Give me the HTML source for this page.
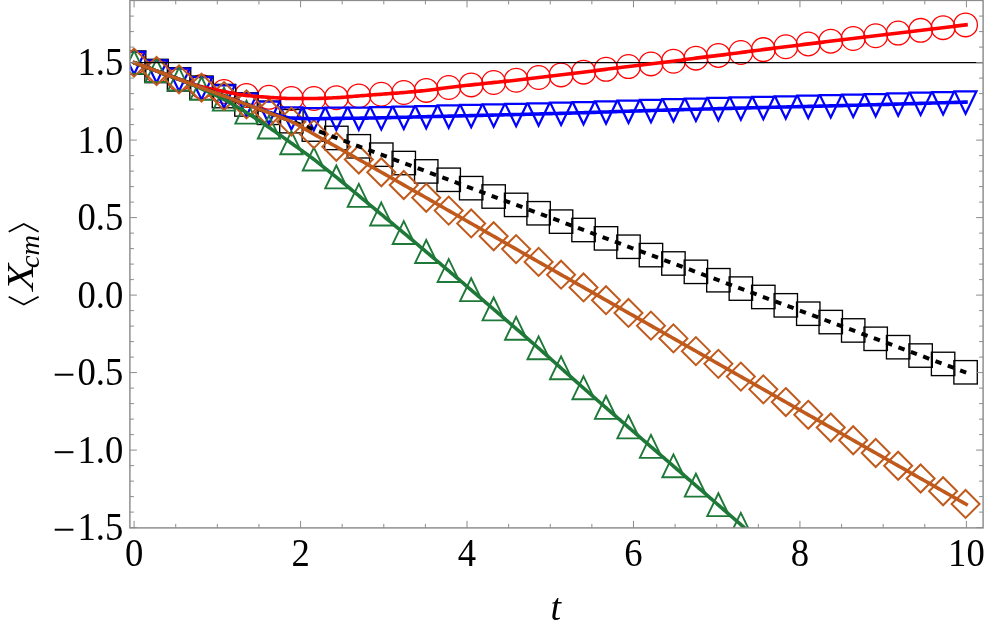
<!DOCTYPE html>
<html><head><meta charset="utf-8"><title>plot</title>
<style>html,body{margin:0;padding:0;background:#fff}body{width:987px;height:630px;overflow:hidden;position:relative;font-family:"Liberation Serif",serif}</style>
</head><body>
<svg width="987" height="630" viewBox="0 0 987 630" style="position:absolute;left:0;top:0;will-change:transform;opacity:0.9999">
<defs><clipPath id="c"><rect x="129.90" y="-0.60" width="853.20" height="528.50"/></clipPath></defs>
<g clip-path="url(#c)">
<circle cx="134.10" cy="62.60" r="11.85" fill="none" stroke="#ff0000" stroke-width="1.3"/><circle cx="156.57" cy="70.97" r="11.85" fill="none" stroke="#ff0000" stroke-width="1.3"/><circle cx="179.04" cy="79.19" r="11.85" fill="none" stroke="#ff0000" stroke-width="1.3"/><circle cx="201.52" cy="86.62" r="11.85" fill="none" stroke="#ff0000" stroke-width="1.3"/><circle cx="223.99" cy="91.51" r="11.85" fill="none" stroke="#ff0000" stroke-width="1.3"/><circle cx="246.46" cy="95.46" r="11.85" fill="none" stroke="#ff0000" stroke-width="1.3"/><circle cx="268.93" cy="97.32" r="11.85" fill="none" stroke="#ff0000" stroke-width="1.3"/><circle cx="291.40" cy="98.56" r="11.85" fill="none" stroke="#ff0000" stroke-width="1.3"/><circle cx="313.88" cy="98.48" r="11.85" fill="none" stroke="#ff0000" stroke-width="1.3"/><circle cx="336.35" cy="97.69" r="11.85" fill="none" stroke="#ff0000" stroke-width="1.3"/><circle cx="358.82" cy="95.93" r="11.85" fill="none" stroke="#ff0000" stroke-width="1.3"/><circle cx="381.29" cy="94.22" r="11.85" fill="none" stroke="#ff0000" stroke-width="1.3"/><circle cx="403.77" cy="92.52" r="11.85" fill="none" stroke="#ff0000" stroke-width="1.3"/><circle cx="426.24" cy="90.42" r="11.85" fill="none" stroke="#ff0000" stroke-width="1.3"/><circle cx="448.71" cy="87.52" r="11.85" fill="none" stroke="#ff0000" stroke-width="1.3"/><circle cx="471.18" cy="84.92" r="11.85" fill="none" stroke="#ff0000" stroke-width="1.3"/><circle cx="493.65" cy="82.52" r="11.85" fill="none" stroke="#ff0000" stroke-width="1.3"/><circle cx="516.13" cy="80.21" r="11.85" fill="none" stroke="#ff0000" stroke-width="1.3"/><circle cx="538.60" cy="77.51" r="11.85" fill="none" stroke="#ff0000" stroke-width="1.3"/><circle cx="561.07" cy="74.91" r="11.85" fill="none" stroke="#ff0000" stroke-width="1.3"/><circle cx="583.54" cy="72.14" r="11.85" fill="none" stroke="#ff0000" stroke-width="1.3"/><circle cx="606.01" cy="69.31" r="11.85" fill="none" stroke="#ff0000" stroke-width="1.3"/><circle cx="628.49" cy="66.54" r="11.85" fill="none" stroke="#ff0000" stroke-width="1.3"/><circle cx="650.96" cy="63.92" r="11.85" fill="none" stroke="#ff0000" stroke-width="1.3"/><circle cx="673.43" cy="61.21" r="11.85" fill="none" stroke="#ff0000" stroke-width="1.3"/><circle cx="695.90" cy="58.14" r="11.85" fill="none" stroke="#ff0000" stroke-width="1.3"/><circle cx="718.37" cy="55.44" r="11.85" fill="none" stroke="#ff0000" stroke-width="1.3"/><circle cx="740.85" cy="52.53" r="11.85" fill="none" stroke="#ff0000" stroke-width="1.3"/><circle cx="763.32" cy="49.58" r="11.85" fill="none" stroke="#ff0000" stroke-width="1.3"/><circle cx="785.79" cy="46.74" r="11.85" fill="none" stroke="#ff0000" stroke-width="1.3"/><circle cx="808.26" cy="43.95" r="11.85" fill="none" stroke="#ff0000" stroke-width="1.3"/><circle cx="830.74" cy="41.19" r="11.85" fill="none" stroke="#ff0000" stroke-width="1.3"/><circle cx="853.21" cy="38.46" r="11.85" fill="none" stroke="#ff0000" stroke-width="1.3"/><circle cx="875.68" cy="35.75" r="11.85" fill="none" stroke="#ff0000" stroke-width="1.3"/><circle cx="898.15" cy="33.05" r="11.85" fill="none" stroke="#ff0000" stroke-width="1.3"/><circle cx="920.62" cy="30.35" r="11.85" fill="none" stroke="#ff0000" stroke-width="1.3"/><circle cx="943.10" cy="27.64" r="11.85" fill="none" stroke="#ff0000" stroke-width="1.3"/><circle cx="965.57" cy="24.90" r="11.85" fill="none" stroke="#ff0000" stroke-width="1.3"/>
<rect x="122.40" y="50.90" width="23.40" height="23.40" fill="none" stroke="#000" stroke-width="1.35"/><rect x="144.87" y="59.27" width="23.40" height="23.40" fill="none" stroke="#000" stroke-width="1.35"/><rect x="167.34" y="67.64" width="23.40" height="23.40" fill="none" stroke="#000" stroke-width="1.35"/><rect x="189.82" y="76.01" width="23.40" height="23.40" fill="none" stroke="#000" stroke-width="1.35"/><rect x="212.29" y="84.38" width="23.40" height="23.40" fill="none" stroke="#000" stroke-width="1.35"/><rect x="234.76" y="92.75" width="23.40" height="23.40" fill="none" stroke="#000" stroke-width="1.35"/><rect x="257.23" y="101.12" width="23.40" height="23.40" fill="none" stroke="#000" stroke-width="1.35"/><rect x="279.70" y="109.49" width="23.40" height="23.40" fill="none" stroke="#000" stroke-width="1.35"/><rect x="302.18" y="117.86" width="23.40" height="23.40" fill="none" stroke="#000" stroke-width="1.35"/><rect x="324.65" y="126.23" width="23.40" height="23.40" fill="none" stroke="#000" stroke-width="1.35"/><rect x="347.12" y="134.60" width="23.40" height="23.40" fill="none" stroke="#000" stroke-width="1.35"/><rect x="369.59" y="142.97" width="23.40" height="23.40" fill="none" stroke="#000" stroke-width="1.35"/><rect x="392.07" y="151.34" width="23.40" height="23.40" fill="none" stroke="#000" stroke-width="1.35"/><rect x="414.54" y="159.71" width="23.40" height="23.40" fill="none" stroke="#000" stroke-width="1.35"/><rect x="437.01" y="168.08" width="23.40" height="23.40" fill="none" stroke="#000" stroke-width="1.35"/><rect x="459.48" y="176.45" width="23.40" height="23.40" fill="none" stroke="#000" stroke-width="1.35"/><rect x="481.95" y="184.82" width="23.40" height="23.40" fill="none" stroke="#000" stroke-width="1.35"/><rect x="504.43" y="193.19" width="23.40" height="23.40" fill="none" stroke="#000" stroke-width="1.35"/><rect x="526.90" y="201.56" width="23.40" height="23.40" fill="none" stroke="#000" stroke-width="1.35"/><rect x="549.37" y="209.93" width="23.40" height="23.40" fill="none" stroke="#000" stroke-width="1.35"/><rect x="571.84" y="218.30" width="23.40" height="23.40" fill="none" stroke="#000" stroke-width="1.35"/><rect x="594.31" y="226.67" width="23.40" height="23.40" fill="none" stroke="#000" stroke-width="1.35"/><rect x="616.79" y="235.04" width="23.40" height="23.40" fill="none" stroke="#000" stroke-width="1.35"/><rect x="639.26" y="243.41" width="23.40" height="23.40" fill="none" stroke="#000" stroke-width="1.35"/><rect x="661.73" y="251.78" width="23.40" height="23.40" fill="none" stroke="#000" stroke-width="1.35"/><rect x="684.20" y="260.15" width="23.40" height="23.40" fill="none" stroke="#000" stroke-width="1.35"/><rect x="706.67" y="268.52" width="23.40" height="23.40" fill="none" stroke="#000" stroke-width="1.35"/><rect x="729.15" y="276.89" width="23.40" height="23.40" fill="none" stroke="#000" stroke-width="1.35"/><rect x="751.62" y="285.26" width="23.40" height="23.40" fill="none" stroke="#000" stroke-width="1.35"/><rect x="774.09" y="293.63" width="23.40" height="23.40" fill="none" stroke="#000" stroke-width="1.35"/><rect x="796.56" y="302.00" width="23.40" height="23.40" fill="none" stroke="#000" stroke-width="1.35"/><rect x="819.04" y="310.37" width="23.40" height="23.40" fill="none" stroke="#000" stroke-width="1.35"/><rect x="841.51" y="318.74" width="23.40" height="23.40" fill="none" stroke="#000" stroke-width="1.35"/><rect x="863.98" y="327.11" width="23.40" height="23.40" fill="none" stroke="#000" stroke-width="1.35"/><rect x="886.45" y="335.48" width="23.40" height="23.40" fill="none" stroke="#000" stroke-width="1.35"/><rect x="908.92" y="343.85" width="23.40" height="23.40" fill="none" stroke="#000" stroke-width="1.35"/><rect x="931.40" y="352.22" width="23.40" height="23.40" fill="none" stroke="#000" stroke-width="1.35"/><rect x="953.87" y="360.59" width="23.40" height="23.40" fill="none" stroke="#000" stroke-width="1.35"/>
<path d="M134.10 74.25 L144.92 51.92 L123.28 51.92 Z" fill="none" stroke="#0000ff" stroke-width="2.25"/><path d="M156.57 82.62 L167.39 60.29 L145.75 60.29 Z" fill="none" stroke="#0000ff" stroke-width="2.25"/><path d="M179.04 90.99 L189.86 68.66 L168.22 68.66 Z" fill="none" stroke="#0000ff" stroke-width="2.25"/><path d="M201.52 99.38 L212.34 77.05 L190.70 77.05 Z" fill="none" stroke="#0000ff" stroke-width="2.25"/><path d="M223.99 107.73 L234.81 85.40 L213.17 85.40 Z" fill="none" stroke="#0000ff" stroke-width="2.25"/><path d="M246.46 115.94 L257.28 93.61 L235.64 93.61 Z" fill="none" stroke="#0000ff" stroke-width="2.25"/><path d="M268.93 123.85 L279.75 101.52 L258.11 101.52 Z" fill="none" stroke="#0000ff" stroke-width="2.25"/><path d="M291.40 129.59 L302.22 107.25 L280.58 107.25 Z" fill="none" stroke="#0000ff" stroke-width="2.25"/><path d="M313.88 130.36 L324.70 108.03 L303.06 108.03 Z" fill="none" stroke="#0000ff" stroke-width="2.25"/><path d="M336.35 130.05 L347.17 107.72 L325.53 107.72 Z" fill="none" stroke="#0000ff" stroke-width="2.25"/><path d="M358.82 129.85 L369.64 107.52 L348.00 107.52 Z" fill="none" stroke="#0000ff" stroke-width="2.25"/><path d="M381.29 129.46 L392.11 107.13 L370.47 107.13 Z" fill="none" stroke="#0000ff" stroke-width="2.25"/><path d="M403.77 128.92 L414.59 106.59 L392.95 106.59 Z" fill="none" stroke="#0000ff" stroke-width="2.25"/><path d="M426.24 128.35 L437.06 106.02 L415.42 106.02 Z" fill="none" stroke="#0000ff" stroke-width="2.25"/><path d="M448.71 127.82 L459.53 105.49 L437.89 105.49 Z" fill="none" stroke="#0000ff" stroke-width="2.25"/><path d="M471.18 127.28 L482.00 104.95 L460.36 104.95 Z" fill="none" stroke="#0000ff" stroke-width="2.25"/><path d="M493.65 126.74 L504.47 104.41 L482.83 104.41 Z" fill="none" stroke="#0000ff" stroke-width="2.25"/><path d="M516.13 126.18 L526.95 103.85 L505.31 103.85 Z" fill="none" stroke="#0000ff" stroke-width="2.25"/><path d="M538.60 125.61 L549.42 103.28 L527.78 103.28 Z" fill="none" stroke="#0000ff" stroke-width="2.25"/><path d="M561.07 125.00 L571.89 102.67 L550.25 102.67 Z" fill="none" stroke="#0000ff" stroke-width="2.25"/><path d="M583.54 124.36 L594.36 102.03 L572.72 102.03 Z" fill="none" stroke="#0000ff" stroke-width="2.25"/><path d="M606.01 123.64 L616.83 101.31 L595.19 101.31 Z" fill="none" stroke="#0000ff" stroke-width="2.25"/><path d="M628.49 122.89 L639.31 100.56 L617.67 100.56 Z" fill="none" stroke="#0000ff" stroke-width="2.25"/><path d="M650.96 122.19 L661.78 99.86 L640.14 99.86 Z" fill="none" stroke="#0000ff" stroke-width="2.25"/><path d="M673.43 121.53 L684.25 99.19 L662.61 99.19 Z" fill="none" stroke="#0000ff" stroke-width="2.25"/><path d="M695.90 120.91 L706.72 98.58 L685.08 98.58 Z" fill="none" stroke="#0000ff" stroke-width="2.25"/><path d="M718.37 120.31 L729.19 97.98 L707.55 97.98 Z" fill="none" stroke="#0000ff" stroke-width="2.25"/><path d="M740.85 119.74 L751.67 97.41 L730.03 97.41 Z" fill="none" stroke="#0000ff" stroke-width="2.25"/><path d="M763.32 119.17 L774.14 96.84 L752.50 96.84 Z" fill="none" stroke="#0000ff" stroke-width="2.25"/><path d="M785.79 118.61 L796.61 96.28 L774.97 96.28 Z" fill="none" stroke="#0000ff" stroke-width="2.25"/><path d="M808.26 118.05 L819.08 95.72 L797.44 95.72 Z" fill="none" stroke="#0000ff" stroke-width="2.25"/><path d="M830.74 117.51 L841.56 95.18 L819.92 95.18 Z" fill="none" stroke="#0000ff" stroke-width="2.25"/><path d="M853.21 116.95 L864.03 94.62 L842.39 94.62 Z" fill="none" stroke="#0000ff" stroke-width="2.25"/><path d="M875.68 116.34 L886.50 94.01 L864.86 94.01 Z" fill="none" stroke="#0000ff" stroke-width="2.25"/><path d="M898.15 115.70 L908.97 93.37 L887.33 93.37 Z" fill="none" stroke="#0000ff" stroke-width="2.25"/><path d="M920.62 115.04 L931.44 92.71 L909.80 92.71 Z" fill="none" stroke="#0000ff" stroke-width="2.25"/><path d="M943.10 114.39 L953.92 92.06 L932.28 92.06 Z" fill="none" stroke="#0000ff" stroke-width="2.25"/><path d="M965.57 113.77 L976.39 91.44 L954.75 91.44 Z" fill="none" stroke="#0000ff" stroke-width="2.25"/>
<path d="M134.10 50.80 L145.20 73.70 L123.00 73.70 Z" fill="none" stroke="#1e7838" stroke-width="1.9"/><path d="M156.57 59.17 L167.67 82.07 L145.47 82.07 Z" fill="none" stroke="#1e7838" stroke-width="1.9"/><path d="M179.04 67.54 L190.14 90.44 L167.94 90.44 Z" fill="none" stroke="#1e7838" stroke-width="1.9"/><path d="M201.52 77.00 L212.62 99.90 L190.42 99.90 Z" fill="none" stroke="#1e7838" stroke-width="1.9"/><path d="M223.99 87.69 L235.09 110.59 L212.89 110.59 Z" fill="none" stroke="#1e7838" stroke-width="1.9"/><path d="M246.46 100.71 L257.56 123.61 L235.36 123.61 Z" fill="none" stroke="#1e7838" stroke-width="1.9"/><path d="M268.93 115.59 L280.03 138.49 L257.83 138.49 Z" fill="none" stroke="#1e7838" stroke-width="1.9"/><path d="M291.40 131.40 L302.50 154.30 L280.30 154.30 Z" fill="none" stroke="#1e7838" stroke-width="1.9"/><path d="M313.88 147.60 L324.98 170.50 L302.78 170.50 Z" fill="none" stroke="#1e7838" stroke-width="1.9"/><path d="M336.35 165.50 L347.45 188.40 L325.25 188.40 Z" fill="none" stroke="#1e7838" stroke-width="1.9"/><path d="M358.82 183.94 L369.92 206.84 L347.72 206.84 Z" fill="none" stroke="#1e7838" stroke-width="1.9"/><path d="M381.29 202.54 L392.39 225.44 L370.19 225.44 Z" fill="none" stroke="#1e7838" stroke-width="1.9"/><path d="M403.77 221.14 L414.87 244.04 L392.67 244.04 Z" fill="none" stroke="#1e7838" stroke-width="1.9"/><path d="M426.24 240.03 L437.34 262.93 L415.14 262.93 Z" fill="none" stroke="#1e7838" stroke-width="1.9"/><path d="M448.71 259.06 L459.81 281.96 L437.61 281.96 Z" fill="none" stroke="#1e7838" stroke-width="1.9"/><path d="M471.18 278.22 L482.28 301.12 L460.08 301.12 Z" fill="none" stroke="#1e7838" stroke-width="1.9"/><path d="M493.65 297.49 L504.75 320.39 L482.55 320.39 Z" fill="none" stroke="#1e7838" stroke-width="1.9"/><path d="M516.13 316.84 L527.23 339.74 L505.03 339.74 Z" fill="none" stroke="#1e7838" stroke-width="1.9"/><path d="M538.60 336.40 L549.70 359.30 L527.50 359.30 Z" fill="none" stroke="#1e7838" stroke-width="1.9"/><path d="M561.07 356.35 L572.17 379.25 L549.97 379.25 Z" fill="none" stroke="#1e7838" stroke-width="1.9"/><path d="M583.54 376.30 L594.64 399.20 L572.44 399.20 Z" fill="none" stroke="#1e7838" stroke-width="1.9"/><path d="M606.01 395.97 L617.11 418.87 L594.91 418.87 Z" fill="none" stroke="#1e7838" stroke-width="1.9"/><path d="M628.49 415.49 L639.59 438.39 L617.39 438.39 Z" fill="none" stroke="#1e7838" stroke-width="1.9"/><path d="M650.96 434.93 L662.06 457.83 L639.86 457.83 Z" fill="none" stroke="#1e7838" stroke-width="1.9"/><path d="M673.43 454.34 L684.53 477.24 L662.33 477.24 Z" fill="none" stroke="#1e7838" stroke-width="1.9"/><path d="M695.90 473.76 L707.00 496.66 L684.80 496.66 Z" fill="none" stroke="#1e7838" stroke-width="1.9"/><path d="M718.37 493.26 L729.47 516.16 L707.27 516.16 Z" fill="none" stroke="#1e7838" stroke-width="1.9"/><path d="M740.85 512.85 L751.95 535.75 L729.75 535.75 Z" fill="none" stroke="#1e7838" stroke-width="1.9"/>
<path d="M134.10 48.60 L148.10 62.60 L134.10 76.60 L120.10 62.60 Z" fill="none" stroke="#c05a1c" stroke-width="2.0"/><path d="M156.57 56.97 L170.57 70.97 L156.57 84.97 L142.57 70.97 Z" fill="none" stroke="#c05a1c" stroke-width="2.0"/><path d="M179.04 65.34 L193.04 79.34 L179.04 93.34 L165.04 79.34 Z" fill="none" stroke="#c05a1c" stroke-width="2.0"/><path d="M201.52 73.71 L215.52 87.71 L201.52 101.71 L187.52 87.71 Z" fill="none" stroke="#c05a1c" stroke-width="2.0"/><path d="M223.99 82.08 L237.99 96.08 L223.99 110.08 L209.99 96.08 Z" fill="none" stroke="#c05a1c" stroke-width="2.0"/><path d="M246.46 90.39 L260.46 104.39 L246.46 118.39 L232.46 104.39 Z" fill="none" stroke="#c05a1c" stroke-width="2.0"/><path d="M268.93 98.82 L282.93 112.82 L268.93 126.82 L254.93 112.82 Z" fill="none" stroke="#c05a1c" stroke-width="2.0"/><path d="M291.40 107.66 L305.40 121.66 L291.40 135.66 L277.40 121.66 Z" fill="none" stroke="#c05a1c" stroke-width="2.0"/><path d="M313.88 120.16 L327.88 134.16 L313.88 148.16 L299.88 134.16 Z" fill="none" stroke="#c05a1c" stroke-width="2.0"/><path d="M336.35 132.80 L350.35 146.80 L336.35 160.80 L322.35 146.80 Z" fill="none" stroke="#c05a1c" stroke-width="2.0"/><path d="M358.82 145.49 L372.82 159.49 L358.82 173.49 L344.82 159.49 Z" fill="none" stroke="#c05a1c" stroke-width="2.0"/><path d="M381.29 158.22 L395.29 172.22 L381.29 186.22 L367.29 172.22 Z" fill="none" stroke="#c05a1c" stroke-width="2.0"/><path d="M403.77 171.00 L417.77 185.00 L403.77 199.00 L389.77 185.00 Z" fill="none" stroke="#c05a1c" stroke-width="2.0"/><path d="M426.24 183.80 L440.24 197.80 L426.24 211.80 L412.24 197.80 Z" fill="none" stroke="#c05a1c" stroke-width="2.0"/><path d="M448.71 196.62 L462.71 210.62 L448.71 224.62 L434.71 210.62 Z" fill="none" stroke="#c05a1c" stroke-width="2.0"/><path d="M471.18 209.45 L485.18 223.45 L471.18 237.45 L457.18 223.45 Z" fill="none" stroke="#c05a1c" stroke-width="2.0"/><path d="M493.65 222.27 L507.65 236.27 L493.65 250.27 L479.65 236.27 Z" fill="none" stroke="#c05a1c" stroke-width="2.0"/><path d="M516.13 235.10 L530.13 249.10 L516.13 263.10 L502.13 249.10 Z" fill="none" stroke="#c05a1c" stroke-width="2.0"/><path d="M538.60 247.90 L552.60 261.90 L538.60 275.90 L524.60 261.90 Z" fill="none" stroke="#c05a1c" stroke-width="2.0"/><path d="M561.07 260.67 L575.07 274.67 L561.07 288.67 L547.07 274.67 Z" fill="none" stroke="#c05a1c" stroke-width="2.0"/><path d="M583.54 273.43 L597.54 287.43 L583.54 301.43 L569.54 287.43 Z" fill="none" stroke="#c05a1c" stroke-width="2.0"/><path d="M606.01 286.18 L620.01 300.18 L606.01 314.18 L592.01 300.18 Z" fill="none" stroke="#c05a1c" stroke-width="2.0"/><path d="M628.49 298.92 L642.49 312.92 L628.49 326.92 L614.49 312.92 Z" fill="none" stroke="#c05a1c" stroke-width="2.0"/><path d="M650.96 311.66 L664.96 325.66 L650.96 339.66 L636.96 325.66 Z" fill="none" stroke="#c05a1c" stroke-width="2.0"/><path d="M673.43 324.40 L687.43 338.40 L673.43 352.40 L659.43 338.40 Z" fill="none" stroke="#c05a1c" stroke-width="2.0"/><path d="M695.90 337.14 L709.90 351.14 L695.90 365.14 L681.90 351.14 Z" fill="none" stroke="#c05a1c" stroke-width="2.0"/><path d="M718.37 349.87 L732.37 363.87 L718.37 377.87 L704.37 363.87 Z" fill="none" stroke="#c05a1c" stroke-width="2.0"/><path d="M740.85 362.60 L754.85 376.60 L740.85 390.60 L726.85 376.60 Z" fill="none" stroke="#c05a1c" stroke-width="2.0"/><path d="M763.32 375.34 L777.32 389.34 L763.32 403.34 L749.32 389.34 Z" fill="none" stroke="#c05a1c" stroke-width="2.0"/><path d="M785.79 388.07 L799.79 402.07 L785.79 416.07 L771.79 402.07 Z" fill="none" stroke="#c05a1c" stroke-width="2.0"/><path d="M808.26 400.80 L822.26 414.80 L808.26 428.80 L794.26 414.80 Z" fill="none" stroke="#c05a1c" stroke-width="2.0"/><path d="M830.74 413.53 L844.74 427.53 L830.74 441.53 L816.74 427.53 Z" fill="none" stroke="#c05a1c" stroke-width="2.0"/><path d="M853.21 426.26 L867.21 440.26 L853.21 454.26 L839.21 440.26 Z" fill="none" stroke="#c05a1c" stroke-width="2.0"/><path d="M875.68 439.00 L889.68 453.00 L875.68 467.00 L861.68 453.00 Z" fill="none" stroke="#c05a1c" stroke-width="2.0"/><path d="M898.15 451.73 L912.15 465.73 L898.15 479.73 L884.15 465.73 Z" fill="none" stroke="#c05a1c" stroke-width="2.0"/><path d="M920.62 464.47 L934.62 478.47 L920.62 492.47 L906.62 478.47 Z" fill="none" stroke="#c05a1c" stroke-width="2.0"/><path d="M943.10 477.22 L957.10 491.22 L943.10 505.22 L929.10 491.22 Z" fill="none" stroke="#c05a1c" stroke-width="2.0"/><path d="M965.57 489.96 L979.57 503.96 L965.57 517.96 L951.57 503.96 Z" fill="none" stroke="#c05a1c" stroke-width="2.0"/>
<path d="M129.90 62.60 L983.10 62.60" stroke="#000" stroke-width="1.2" fill="none"/>
<path d="M132.69 62.07 L134.78 62.85 L136.87 63.63 L138.96 64.41 L141.06 65.20 L143.15 65.98 L145.24 66.76 L147.34 67.54 L149.43 68.32 L151.52 69.10 L153.62 69.88 L155.71 70.65 L157.80 71.42 L159.89 72.20 L161.99 72.98 L164.08 73.76 L166.17 74.53 L168.27 75.31 L170.36 76.08 L172.45 76.84 L174.55 77.60 L176.64 78.34 L178.73 79.08 L180.83 79.81 L182.92 80.55 L185.01 81.29 L187.10 82.04 L189.20 82.77 L191.29 83.49 L193.38 84.19 L195.48 84.87 L197.57 85.51 L199.66 86.12 L201.76 86.69 L203.85 87.22 L205.94 87.73 L208.04 88.22 L210.13 88.69 L212.22 89.14 L214.31 89.58 L216.41 90.01 L218.50 90.43 L220.59 90.85 L222.69 91.25 L224.78 91.66 L226.87 92.08 L228.97 92.49 L231.06 92.91 L233.15 93.32 L235.24 93.72 L237.34 94.10 L239.43 94.46 L241.52 94.80 L243.62 95.10 L245.71 95.37 L247.80 95.61 L249.90 95.83 L251.99 96.03 L254.08 96.22 L256.18 96.40 L258.27 96.57 L260.36 96.73 L262.45 96.88 L264.55 97.02 L266.64 97.17 L268.73 97.31 L270.83 97.45 L272.92 97.60 L275.01 97.76 L277.11 97.91 L279.20 98.06 L281.29 98.20 L283.39 98.32 L285.48 98.42 L287.57 98.50 L289.66 98.55 L291.76 98.56 L293.85 98.56 L295.94 98.56 L298.04 98.55 L300.13 98.55 L302.22 98.54 L304.32 98.53 L306.41 98.52 L308.50 98.51 L310.59 98.50 L312.69 98.49 L314.78 98.48 L316.87 98.45 L318.97 98.40 L321.06 98.35 L323.15 98.28 L325.25 98.20 L327.34 98.11 L329.43 98.02 L331.53 97.93 L333.62 97.82 L335.71 97.72 L337.80 97.62 L339.90 97.49 L341.99 97.34 L344.08 97.18 L346.18 97.01 L348.27 96.83 L350.36 96.65 L352.46 96.46 L354.55 96.28 L356.64 96.10 L358.74 95.93 L360.83 95.77 L362.92 95.61 L365.01 95.45 L367.11 95.29 L369.20 95.13 L371.29 94.98 L373.39 94.82 L375.48 94.66 L377.57 94.50 L379.67 94.34 L381.76 94.18 L383.85 94.03 L385.95 93.87 L388.04 93.72 L390.13 93.57 L392.22 93.41 L394.32 93.26 L396.41 93.10 L398.50 92.94 L400.60 92.77 L402.69 92.60 L404.78 92.43 L406.88 92.25 L408.97 92.07 L411.06 91.89 L413.15 91.71 L415.25 91.52 L417.34 91.32 L419.43 91.12 L421.53 90.91 L423.62 90.70 L425.71 90.48 L427.81 90.25 L429.90 90.00 L431.99 89.74 L434.09 89.47 L436.18 89.19 L438.27 88.90 L440.36 88.62 L442.46 88.33 L444.55 88.05 L446.64 87.78 L448.74 87.52 L450.83 87.27 L452.92 87.02 L455.02 86.77 L457.11 86.52 L459.20 86.28 L461.30 86.04 L463.39 85.80 L465.48 85.56 L467.57 85.32 L469.67 85.09 L471.76 84.86 L473.85 84.62 L475.95 84.40 L478.04 84.17 L480.13 83.94 L482.23 83.72 L484.32 83.50 L486.41 83.28 L488.50 83.06 L490.60 82.84 L492.69 82.62 L494.78 82.40 L496.88 82.18 L498.97 81.97 L501.06 81.76 L503.16 81.55 L505.25 81.34 L507.34 81.13 L509.44 80.92 L511.53 80.70 L513.62 80.48 L515.71 80.25 L517.81 80.02 L519.90 79.78 L521.99 79.53 L524.09 79.28 L526.18 79.02 L528.27 78.77 L530.37 78.51 L532.46 78.25 L534.55 78.00 L536.65 77.74 L538.74 77.49 L540.83 77.25 L542.92 77.01 L545.02 76.76 L547.11 76.52 L549.20 76.28 L551.30 76.04 L553.39 75.80 L555.48 75.56 L557.58 75.32 L559.67 75.07 L561.76 74.82 L563.85 74.57 L565.95 74.32 L568.04 74.07 L570.13 73.81 L572.23 73.55 L574.32 73.29 L576.41 73.04 L578.51 72.77 L580.60 72.51 L582.69 72.25 L584.79 71.99 L586.88 71.72 L588.97 71.46 L591.06 71.20 L593.16 70.93 L595.25 70.67 L597.34 70.40 L599.44 70.14 L601.53 69.87 L603.62 69.61 L605.72 69.34 L607.81 69.08 L609.90 68.82 L612.00 68.56 L614.09 68.30 L616.18 68.04 L618.27 67.78 L620.37 67.52 L622.46 67.26 L624.55 67.01 L626.65 66.76 L628.74 66.51 L630.83 66.26 L632.93 66.01 L635.02 65.77 L637.11 65.53 L639.20 65.28 L641.30 65.04 L643.39 64.80 L645.48 64.56 L647.58 64.32 L649.67 64.07 L651.76 63.82 L653.86 63.57 L655.95 63.33 L658.04 63.08 L660.14 62.83 L662.23 62.58 L664.32 62.33 L666.41 62.08 L668.51 61.82 L670.60 61.56 L672.69 61.30 L674.79 61.03 L676.88 60.75 L678.97 60.47 L681.07 60.18 L683.16 59.88 L685.25 59.59 L687.35 59.29 L689.44 59.00 L691.53 58.71 L693.62 58.43 L695.72 58.16 L697.81 57.90 L699.90 57.64 L702.00 57.39 L704.09 57.14 L706.18 56.89 L708.28 56.65 L710.37 56.40 L712.46 56.15 L714.55 55.91 L716.65 55.65 L718.74 55.39 L720.83 55.13 L722.93 54.86 L725.02 54.59 L727.11 54.32 L729.21 54.05 L731.30 53.78 L733.39 53.50 L735.49 53.23 L737.58 52.95 L739.67 52.68 L741.76 52.41 L743.86 52.13 L745.95 51.86 L748.04 51.58 L750.14 51.30 L752.23 51.03 L754.32 50.75 L756.42 50.47 L758.51 50.20 L760.60 49.93 L762.70 49.66 L764.79 49.39 L766.88 49.13 L768.97 48.86 L771.07 48.59 L773.16 48.33 L775.25 48.07 L777.35 47.80 L779.44 47.54 L781.53 47.27 L783.63 47.01 L785.72 46.75 L787.81 46.49 L789.91 46.23 L792.00 45.96 L794.09 45.70 L796.18 45.44 L798.28 45.18 L800.37 44.92 L802.46 44.66 L804.56 44.40 L806.65 44.15 L808.74 43.89 L810.84 43.63 L812.93 43.37 L815.02 43.11 L817.11 42.86 L819.21 42.60 L821.30 42.34 L823.39 42.09 L825.49 41.83 L827.58 41.58 L829.67 41.32 L831.77 41.07 L833.86 40.81 L835.95 40.56 L838.05 40.30 L840.14 40.05 L842.23 39.79 L844.32 39.54 L846.42 39.29 L848.51 39.03 L850.60 38.78 L852.70 38.53 L854.79 38.27 L856.88 38.02 L858.98 37.77 L861.07 37.51 L863.16 37.26 L865.26 37.01 L867.35 36.76 L869.44 36.50 L871.53 36.25 L873.63 36.00 L875.72 35.75 L877.81 35.50 L879.91 35.25 L882.00 34.99 L884.09 34.74 L886.19 34.49 L888.28 34.24 L890.37 33.99 L892.46 33.74 L894.56 33.48 L896.65 33.23 L898.74 32.98 L900.84 32.73 L902.93 32.48 L905.02 32.23 L907.12 31.98 L909.21 31.72 L911.30 31.47 L913.40 31.22 L915.49 30.97 L917.58 30.72 L919.67 30.46 L921.77 30.21 L923.86 29.96 L925.95 29.71 L928.05 29.46 L930.14 29.20 L932.23 28.95 L934.33 28.70 L936.42 28.45 L938.51 28.19 L940.61 27.94 L942.70 27.69 L944.79 27.43 L946.88 27.18 L948.98 26.92 L951.07 26.67 L953.16 26.42 L955.26 26.16 L957.35 25.91 L959.44 25.65 L961.54 25.40 L963.63 25.14 L965.72 24.89 L967.81 24.63" stroke="#ff0000" stroke-width="3.6" fill="none"/>
<path d="M132.69 62.07 L134.78 62.85 L136.87 63.63 L138.96 64.41 L141.06 65.19 L143.15 65.97 L145.24 66.75 L147.34 67.53 L149.43 68.31 L151.52 69.09 L153.62 69.87 L155.71 70.65 L157.80 71.43 L159.89 72.21 L161.99 72.99 L164.08 73.77 L166.17 74.55 L168.27 75.33 L170.36 76.11 L172.45 76.89 L174.55 77.66 L176.64 78.44 L178.73 79.22 L180.83 80.00 L182.92 80.78 L185.01 81.57 L187.10 82.35 L189.20 83.13 L191.29 83.91 L193.38 84.69 L195.48 85.48 L197.57 86.26 L199.66 87.04 L201.76 87.82 L203.85 88.60 L205.94 89.38 L208.04 90.16 L210.13 90.94 L212.22 91.72 L214.31 92.50 L216.41 93.28 L218.50 94.05 L220.59 94.83 L222.69 95.60 L224.78 96.37 L226.87 97.14 L228.97 97.91 L231.06 98.69 L233.15 99.46 L235.24 100.22 L237.34 100.99 L239.43 101.75 L241.52 102.51 L243.62 103.27 L245.71 104.03 L247.80 104.78 L249.90 105.55 L251.99 106.32 L254.08 107.09 L256.18 107.87 L258.27 108.63 L260.36 109.38 L262.45 110.11 L264.55 110.82 L266.64 111.50 L268.73 112.14 L270.83 112.78 L272.92 113.44 L275.01 114.12 L277.11 114.79 L279.20 115.44 L281.29 116.05 L283.39 116.61 L285.48 117.09 L287.57 117.49 L289.66 117.78 L291.76 117.96 L293.85 118.08 L295.94 118.19 L298.04 118.30 L300.13 118.39 L302.22 118.48 L304.32 118.55 L306.41 118.61 L308.50 118.66 L310.59 118.69 L312.69 118.71 L314.78 118.71 L316.87 118.70 L318.97 118.68 L321.06 118.65 L323.15 118.62 L325.25 118.58 L327.34 118.54 L329.43 118.51 L331.53 118.47 L333.62 118.44 L335.71 118.41 L337.80 118.38 L339.90 118.36 L341.99 118.35 L344.08 118.33 L346.18 118.31 L348.27 118.30 L350.36 118.28 L352.46 118.26 L354.55 118.24 L356.64 118.22 L358.74 118.20 L360.83 118.17 L362.92 118.15 L365.01 118.11 L367.11 118.08 L369.20 118.05 L371.29 118.01 L373.39 117.97 L375.48 117.93 L377.57 117.89 L379.67 117.85 L381.76 117.80 L383.85 117.76 L385.95 117.71 L388.04 117.66 L390.13 117.61 L392.22 117.56 L394.32 117.51 L396.41 117.46 L398.50 117.41 L400.60 117.35 L402.69 117.30 L404.78 117.24 L406.88 117.19 L408.97 117.14 L411.06 117.08 L413.15 117.03 L415.25 116.97 L417.34 116.92 L419.43 116.87 L421.53 116.81 L423.62 116.76 L425.71 116.71 L427.81 116.66 L429.90 116.61 L431.99 116.56 L434.09 116.51 L436.18 116.46 L438.27 116.41 L440.36 116.36 L442.46 116.31 L444.55 116.26 L446.64 116.22 L448.74 116.17 L450.83 116.12 L452.92 116.07 L455.02 116.02 L457.11 115.97 L459.20 115.92 L461.30 115.87 L463.39 115.82 L465.48 115.77 L467.57 115.72 L469.67 115.67 L471.76 115.62 L473.85 115.57 L475.95 115.52 L478.04 115.47 L480.13 115.42 L482.23 115.37 L484.32 115.32 L486.41 115.27 L488.50 115.22 L490.60 115.17 L492.69 115.12 L494.78 115.06 L496.88 115.01 L498.97 114.96 L501.06 114.91 L503.16 114.86 L505.25 114.81 L507.34 114.75 L509.44 114.70 L511.53 114.65 L513.62 114.60 L515.71 114.54 L517.81 114.49 L519.90 114.44 L521.99 114.39 L524.09 114.33 L526.18 114.28 L528.27 114.23 L530.37 114.17 L532.46 114.12 L534.55 114.06 L536.65 114.01 L538.74 113.95 L540.83 113.90 L542.92 113.84 L545.02 113.79 L547.11 113.73 L549.20 113.67 L551.30 113.62 L553.39 113.56 L555.48 113.50 L557.58 113.45 L559.67 113.39 L561.76 113.33 L563.85 113.27 L565.95 113.21 L568.04 113.16 L570.13 113.10 L572.23 113.04 L574.32 112.98 L576.41 112.92 L578.51 112.86 L580.60 112.80 L582.69 112.74 L584.79 112.67 L586.88 112.61 L588.97 112.55 L591.06 112.48 L593.16 112.42 L595.25 112.35 L597.34 112.28 L599.44 112.21 L601.53 112.14 L603.62 112.07 L605.72 112.00 L607.81 111.93 L609.90 111.86 L612.00 111.78 L614.09 111.71 L616.18 111.64 L618.27 111.57 L620.37 111.50 L622.46 111.43 L624.55 111.36 L626.65 111.30 L628.74 111.23 L630.83 111.17 L632.93 111.10 L635.02 111.03 L637.11 110.97 L639.20 110.90 L641.30 110.84 L643.39 110.77 L645.48 110.71 L647.58 110.64 L649.67 110.58 L651.76 110.51 L653.86 110.45 L655.95 110.39 L658.04 110.32 L660.14 110.26 L662.23 110.20 L664.32 110.14 L666.41 110.08 L668.51 110.02 L670.60 109.96 L672.69 109.90 L674.79 109.84 L676.88 109.78 L678.97 109.72 L681.07 109.66 L683.16 109.60 L685.25 109.54 L687.35 109.49 L689.44 109.43 L691.53 109.37 L693.62 109.32 L695.72 109.26 L697.81 109.20 L699.90 109.15 L702.00 109.09 L704.09 109.04 L706.18 108.98 L708.28 108.93 L710.37 108.87 L712.46 108.82 L714.55 108.76 L716.65 108.71 L718.74 108.65 L720.83 108.60 L722.93 108.55 L725.02 108.49 L727.11 108.44 L729.21 108.39 L731.30 108.33 L733.39 108.28 L735.49 108.23 L737.58 108.17 L739.67 108.12 L741.76 108.07 L743.86 108.01 L745.95 107.96 L748.04 107.91 L750.14 107.85 L752.23 107.80 L754.32 107.75 L756.42 107.69 L758.51 107.64 L760.60 107.59 L762.70 107.53 L764.79 107.48 L766.88 107.43 L768.97 107.38 L771.07 107.32 L773.16 107.27 L775.25 107.22 L777.35 107.17 L779.44 107.11 L781.53 107.06 L783.63 107.01 L785.72 106.96 L787.81 106.91 L789.91 106.86 L792.00 106.80 L794.09 106.75 L796.18 106.70 L798.28 106.65 L800.37 106.60 L802.46 106.55 L804.56 106.49 L806.65 106.44 L808.74 106.39 L810.84 106.34 L812.93 106.29 L815.02 106.24 L817.11 106.19 L819.21 106.14 L821.30 106.09 L823.39 106.04 L825.49 105.99 L827.58 105.94 L829.67 105.89 L831.77 105.84 L833.86 105.78 L835.95 105.73 L838.05 105.68 L840.14 105.63 L842.23 105.58 L844.32 105.53 L846.42 105.48 L848.51 105.42 L850.60 105.37 L852.70 105.32 L854.79 105.26 L856.88 105.21 L858.98 105.15 L861.07 105.09 L863.16 105.04 L865.26 104.98 L867.35 104.92 L869.44 104.87 L871.53 104.81 L873.63 104.75 L875.72 104.69 L877.81 104.63 L879.91 104.58 L882.00 104.52 L884.09 104.46 L886.19 104.40 L888.28 104.34 L890.37 104.28 L892.46 104.22 L894.56 104.16 L896.65 104.09 L898.74 104.03 L900.84 103.97 L902.93 103.91 L905.02 103.85 L907.12 103.79 L909.21 103.73 L911.30 103.67 L913.40 103.61 L915.49 103.54 L917.58 103.48 L919.67 103.42 L921.77 103.36 L923.86 103.30 L925.95 103.24 L928.05 103.18 L930.14 103.12 L932.23 103.06 L934.33 102.99 L936.42 102.93 L938.51 102.87 L940.61 102.81 L942.70 102.75 L944.79 102.69 L946.88 102.63 L948.98 102.57 L951.07 102.52 L953.16 102.46 L955.26 102.40 L957.35 102.34 L959.44 102.28 L961.54 102.23 L963.63 102.17 L965.72 102.11 L967.81 102.06" stroke="#0000ff" stroke-width="3.6" fill="none"/>
<path d="M134.10 62.60 L550.50 217.69 L966.90 372.79" stroke="#000" stroke-width="4.0" stroke-dasharray="6.5 6.656" fill="none"/>
<path d="M132.69 62.07 L134.25 62.66 L135.82 63.24 L137.39 63.83 L138.96 64.41 L140.53 64.99 L142.09 65.58 L143.66 66.16 L145.23 66.75 L146.80 67.33 L148.37 67.91 L149.93 68.50 L151.50 69.08 L153.07 69.67 L154.64 70.25 L156.21 70.83 L157.77 71.42 L159.34 71.99 L160.91 72.57 L162.48 73.14 L164.05 73.72 L165.61 74.29 L167.18 74.86 L168.75 75.44 L170.32 76.02 L171.89 76.60 L173.45 77.19 L175.02 77.78 L176.59 78.38 L178.16 78.99 L179.73 79.61 L181.29 80.23 L182.86 80.86 L184.43 81.50 L186.00 82.14 L187.57 82.79 L189.13 83.44 L190.70 84.10 L192.27 84.76 L193.84 85.43 L195.41 86.11 L196.97 86.79 L198.54 87.48 L200.11 88.17 L201.68 88.87 L203.25 89.57 L204.81 90.27 L206.38 90.98 L207.95 91.70 L209.52 92.42 L211.09 93.15 L212.65 93.88 L214.22 94.63 L215.79 95.38 L217.36 96.14 L218.93 96.91 L220.49 97.70 L222.06 98.49 L223.63 99.30 L225.20 100.13 L226.77 100.97 L228.33 101.82 L229.90 102.69 L231.47 103.57 L233.04 104.47 L234.61 105.37 L236.17 106.29 L237.74 107.22 L239.31 108.15 L240.88 109.09 L242.45 110.05 L244.01 111.00 L245.58 111.97 L247.15 112.94 L248.72 113.92 L250.29 114.92 L251.85 115.92 L253.42 116.94 L254.99 117.97 L256.56 119.01 L258.13 120.06 L259.69 121.11 L261.26 122.17 L262.83 123.23 L264.40 124.30 L265.97 125.37 L267.53 126.44 L269.10 127.51 L270.67 128.58 L272.24 129.66 L273.81 130.75 L275.37 131.84 L276.94 132.94 L278.51 134.04 L280.08 135.15 L281.65 136.26 L283.21 137.37 L284.78 138.48 L286.35 139.60 L287.92 140.72 L289.49 141.83 L291.06 142.95 L292.62 144.07 L294.19 145.18 L295.76 146.29 L297.33 147.40 L298.90 148.51 L300.46 149.62 L302.03 150.74 L303.60 151.86 L305.17 152.98 L306.74 154.12 L308.30 155.26 L309.87 156.41 L311.44 157.57 L313.01 158.74 L314.58 159.93 L316.14 161.13 L317.71 162.34 L319.28 163.57 L320.85 164.80 L322.42 166.05 L323.98 167.30 L325.55 168.56 L327.12 169.82 L328.69 171.09 L330.26 172.36 L331.82 173.63 L333.39 174.90 L334.96 176.18 L336.53 177.44 L338.10 178.72 L339.66 179.99 L341.23 181.27 L342.80 182.55 L344.37 183.83 L345.94 185.12 L347.50 186.41 L349.07 187.70 L350.64 189.00 L352.21 190.29 L353.78 191.58 L355.34 192.88 L356.91 194.17 L358.48 195.46 L360.05 196.76 L361.62 198.05 L363.18 199.35 L364.75 200.64 L366.32 201.94 L367.89 203.24 L369.46 204.54 L371.02 205.84 L372.59 207.14 L374.16 208.44 L375.73 209.74 L377.30 211.03 L378.86 212.33 L380.43 213.63 L382.00 214.93 L383.57 216.23 L385.14 217.52 L386.70 218.81 L388.27 220.11 L389.84 221.40 L391.41 222.69 L392.98 223.99 L394.54 225.28 L396.11 226.58 L397.68 227.88 L399.25 229.18 L400.82 230.48 L402.38 231.79 L403.95 233.10 L405.52 234.41 L407.09 235.73 L408.66 237.04 L410.22 238.36 L411.79 239.67 L413.36 240.99 L414.93 242.31 L416.50 243.63 L418.06 244.94 L419.63 246.26 L421.20 247.58 L422.77 248.91 L424.34 250.23 L425.90 251.55 L427.47 252.87 L429.04 254.20 L430.61 255.52 L432.18 256.85 L433.74 258.17 L435.31 259.50 L436.88 260.83 L438.45 262.16 L440.02 263.48 L441.58 264.81 L443.15 266.14 L444.72 267.47 L446.29 268.81 L447.86 270.14 L449.43 271.47 L450.99 272.80 L452.56 274.14 L454.13 275.47 L455.70 276.81 L457.27 278.14 L458.83 279.48 L460.40 280.81 L461.97 282.15 L463.54 283.49 L465.11 284.83 L466.67 286.17 L468.24 287.51 L469.81 288.85 L471.38 290.19 L472.95 291.53 L474.51 292.87 L476.08 294.21 L477.65 295.55 L479.22 296.90 L480.79 298.24 L482.35 299.59 L483.92 300.93 L485.49 302.27 L487.06 303.62 L488.63 304.97 L490.19 306.31 L491.76 307.66 L493.33 309.01 L494.90 310.36 L496.47 311.70 L498.03 313.05 L499.60 314.40 L501.17 315.75 L502.74 317.10 L504.31 318.45 L505.87 319.80 L507.44 321.15 L509.01 322.50 L510.58 323.86 L512.15 325.21 L513.71 326.56 L515.28 327.91 L516.85 329.27 L518.42 330.62 L519.99 331.98 L521.55 333.34 L523.12 334.70 L524.69 336.06 L526.26 337.42 L527.83 338.78 L529.39 340.15 L530.96 341.52 L532.53 342.89 L534.10 344.26 L535.67 345.63 L537.23 347.01 L538.80 348.38 L540.37 349.76 L541.94 351.14 L543.51 352.53 L545.07 353.91 L546.64 355.30 L548.21 356.69 L549.78 358.08 L551.35 359.48 L552.91 360.87 L554.48 362.27 L556.05 363.67 L557.62 365.07 L559.19 366.46 L560.75 367.86 L562.32 369.26 L563.89 370.66 L565.46 372.06 L567.03 373.46 L568.59 374.86 L570.16 376.25 L571.73 377.65 L573.30 379.04 L574.87 380.43 L576.43 381.82 L578.00 383.21 L579.57 384.60 L581.14 385.98 L582.71 387.37 L584.27 388.74 L585.84 390.12 L587.41 391.50 L588.98 392.87 L590.55 394.25 L592.11 395.62 L593.68 397.00 L595.25 398.37 L596.82 399.74 L598.39 401.11 L599.95 402.48 L601.52 403.85 L603.09 405.22 L604.66 406.59 L606.23 407.95 L607.80 409.32 L609.36 410.68 L610.93 412.05 L612.50 413.41 L614.07 414.78 L615.64 416.14 L617.20 417.50 L618.77 418.87 L620.34 420.23 L621.91 421.59 L623.48 422.95 L625.04 424.31 L626.61 425.67 L628.18 427.03 L629.75 428.39 L631.32 429.74 L632.88 431.10 L634.45 432.46 L636.02 433.82 L637.59 435.17 L639.16 436.53 L640.72 437.89 L642.29 439.24 L643.86 440.60 L645.43 441.95 L647.00 443.31 L648.56 444.66 L650.13 446.02 L651.70 447.37 L653.27 448.73 L654.84 450.08 L656.40 451.43 L657.97 452.79 L659.54 454.14 L661.11 455.50 L662.68 456.85 L664.24 458.20 L665.81 459.56 L667.38 460.91 L668.95 462.26 L670.52 463.62 L672.08 464.97 L673.65 466.33 L675.22 467.68 L676.79 469.04 L678.36 470.39 L679.92 471.74 L681.49 473.10 L683.06 474.45 L684.63 475.81 L686.20 477.16 L687.76 478.52 L689.33 479.88 L690.90 481.23 L692.47 482.59 L694.04 483.95 L695.60 485.30 L697.17 486.66 L698.74 488.02 L700.31 489.38 L701.88 490.74 L703.44 492.10 L705.01 493.45 L706.58 494.81 L708.15 496.18 L709.72 497.54 L711.28 498.90 L712.85 500.26 L714.42 501.62 L715.99 502.99 L717.56 504.35 L719.12 505.72 L720.69 507.08 L722.26 508.45 L723.83 509.81 L725.40 511.18 L726.96 512.54 L728.53 513.91 L730.10 515.28 L731.67 516.64 L733.24 518.01 L734.80 519.38 L736.37 520.74 L737.94 522.11 L739.51 523.48 L741.08 524.85 L742.64 526.22 L744.21 527.58 L745.78 528.95 L747.35 530.32 L748.92 531.69 L750.48 533.06 L752.05 534.43 L753.62 535.80 L755.19 537.17 L756.76 538.54 L758.33 539.91" stroke="#1e7838" stroke-width="3.6" fill="none"/>
<path d="M132.69 62.07 L134.78 62.85 L136.87 63.63 L138.96 64.41 L141.06 65.19 L143.15 65.97 L145.24 66.75 L147.34 67.53 L149.43 68.31 L151.52 69.09 L153.62 69.87 L155.71 70.65 L157.80 71.43 L159.89 72.21 L161.99 72.99 L164.08 73.77 L166.17 74.55 L168.27 75.33 L170.36 76.11 L172.45 76.89 L174.55 77.66 L176.64 78.44 L178.73 79.22 L180.83 80.00 L182.92 80.78 L185.01 81.56 L187.10 82.34 L189.20 83.12 L191.29 83.90 L193.38 84.68 L195.48 85.46 L197.57 86.24 L199.66 87.02 L201.76 87.80 L203.85 88.58 L205.94 89.36 L208.04 90.14 L210.13 90.92 L212.22 91.70 L214.31 92.48 L216.41 93.26 L218.50 94.04 L220.59 94.82 L222.69 95.60 L224.78 96.37 L226.87 97.15 L228.97 97.93 L231.06 98.70 L233.15 99.48 L235.24 100.25 L237.34 101.02 L239.43 101.79 L241.52 102.56 L243.62 103.34 L245.71 104.11 L247.80 104.88 L249.90 105.66 L251.99 106.44 L254.08 107.21 L256.18 108.00 L258.27 108.78 L260.36 109.56 L262.45 110.35 L264.55 111.15 L266.64 111.94 L268.73 112.74 L270.83 113.54 L272.92 114.32 L275.01 115.10 L277.11 115.87 L279.20 116.66 L281.29 117.45 L283.39 118.26 L285.48 119.10 L287.57 119.96 L289.66 120.87 L291.76 121.82 L293.85 122.83 L295.94 123.90 L298.04 125.03 L300.13 126.19 L302.22 127.39 L304.32 128.60 L306.41 129.83 L308.50 131.06 L310.59 132.29 L312.69 133.49 L314.78 134.67 L316.87 135.85 L318.97 137.02 L321.06 138.20 L323.15 139.37 L325.25 140.55 L327.34 141.72 L329.43 142.90 L331.53 144.08 L333.62 145.26 L335.71 146.44 L337.80 147.62 L339.90 148.80 L341.99 149.98 L344.08 151.16 L346.18 152.34 L348.27 153.52 L350.36 154.70 L352.46 155.89 L354.55 157.07 L356.64 158.25 L358.74 159.44 L360.83 160.62 L362.92 161.81 L365.01 162.99 L367.11 164.18 L369.20 165.36 L371.29 166.55 L373.39 167.74 L375.48 168.92 L377.57 170.11 L379.67 171.30 L381.76 172.49 L383.85 173.68 L385.95 174.86 L388.04 176.05 L390.13 177.24 L392.22 178.43 L394.32 179.62 L396.41 180.81 L398.50 182.00 L400.60 183.19 L402.69 184.38 L404.78 185.57 L406.88 186.77 L408.97 187.96 L411.06 189.15 L413.15 190.34 L415.25 191.53 L417.34 192.73 L419.43 193.92 L421.53 195.11 L423.62 196.30 L425.71 197.50 L427.81 198.69 L429.90 199.88 L431.99 201.08 L434.09 202.27 L436.18 203.47 L438.27 204.66 L440.36 205.85 L442.46 207.05 L444.55 208.24 L446.64 209.44 L448.74 210.63 L450.83 211.83 L452.92 213.02 L455.02 214.22 L457.11 215.41 L459.20 216.61 L461.30 217.80 L463.39 219.00 L465.48 220.19 L467.57 221.39 L469.67 222.58 L471.76 223.78 L473.85 224.97 L475.95 226.17 L478.04 227.36 L480.13 228.56 L482.23 229.75 L484.32 230.95 L486.41 232.14 L488.50 233.34 L490.60 234.53 L492.69 235.73 L494.78 236.92 L496.88 238.11 L498.97 239.31 L501.06 240.50 L503.16 241.70 L505.25 242.89 L507.34 244.09 L509.44 245.28 L511.53 246.47 L513.62 247.67 L515.71 248.86 L517.81 250.05 L519.90 251.25 L521.99 252.44 L524.09 253.63 L526.18 254.83 L528.27 256.02 L530.37 257.21 L532.46 258.40 L534.55 259.59 L536.65 260.79 L538.74 261.98 L540.83 263.17 L542.92 264.36 L545.02 265.55 L547.11 266.74 L549.20 267.93 L551.30 269.12 L553.39 270.31 L555.48 271.50 L557.58 272.69 L559.67 273.88 L561.76 275.06 L563.85 276.25 L565.95 277.44 L568.04 278.63 L570.13 279.82 L572.23 281.00 L574.32 282.19 L576.41 283.38 L578.51 284.57 L580.60 285.76 L582.69 286.94 L584.79 288.13 L586.88 289.32 L588.97 290.51 L591.06 291.69 L593.16 292.88 L595.25 294.07 L597.34 295.26 L599.44 296.44 L601.53 297.63 L603.62 298.82 L605.72 300.01 L607.81 301.19 L609.90 302.38 L612.00 303.57 L614.09 304.76 L616.18 305.94 L618.27 307.13 L620.37 308.32 L622.46 309.50 L624.55 310.69 L626.65 311.88 L628.74 313.06 L630.83 314.25 L632.93 315.44 L635.02 316.63 L637.11 317.81 L639.20 319.00 L641.30 320.19 L643.39 321.37 L645.48 322.56 L647.58 323.75 L649.67 324.93 L651.76 326.12 L653.86 327.31 L655.95 328.49 L658.04 329.68 L660.14 330.87 L662.23 332.05 L664.32 333.24 L666.41 334.43 L668.51 335.61 L670.60 336.80 L672.69 337.98 L674.79 339.17 L676.88 340.36 L678.97 341.54 L681.07 342.73 L683.16 343.92 L685.25 345.10 L687.35 346.29 L689.44 347.47 L691.53 348.66 L693.62 349.85 L695.72 351.03 L697.81 352.22 L699.90 353.41 L702.00 354.59 L704.09 355.78 L706.18 356.96 L708.28 358.15 L710.37 359.34 L712.46 360.52 L714.55 361.71 L716.65 362.89 L718.74 364.08 L720.83 365.27 L722.93 366.45 L725.02 367.64 L727.11 368.82 L729.21 370.01 L731.30 371.20 L733.39 372.38 L735.49 373.57 L737.58 374.75 L739.67 375.94 L741.76 377.12 L743.86 378.31 L745.95 379.50 L748.04 380.68 L750.14 381.87 L752.23 383.05 L754.32 384.24 L756.42 385.43 L758.51 386.61 L760.60 387.80 L762.70 388.98 L764.79 390.17 L766.88 391.35 L768.97 392.54 L771.07 393.73 L773.16 394.91 L775.25 396.10 L777.35 397.28 L779.44 398.47 L781.53 399.65 L783.63 400.84 L785.72 402.03 L787.81 403.21 L789.91 404.40 L792.00 405.58 L794.09 406.77 L796.18 407.95 L798.28 409.14 L800.37 410.33 L802.46 411.51 L804.56 412.70 L806.65 413.88 L808.74 415.07 L810.84 416.26 L812.93 417.44 L815.02 418.63 L817.11 419.81 L819.21 421.00 L821.30 422.18 L823.39 423.37 L825.49 424.56 L827.58 425.74 L829.67 426.93 L831.77 428.11 L833.86 429.30 L835.95 430.49 L838.05 431.67 L840.14 432.86 L842.23 434.04 L844.32 435.23 L846.42 436.42 L848.51 437.60 L850.60 438.79 L852.70 439.97 L854.79 441.16 L856.88 442.35 L858.98 443.53 L861.07 444.72 L863.16 445.90 L865.26 447.09 L867.35 448.28 L869.44 449.46 L871.53 450.65 L873.63 451.83 L875.72 453.02 L877.81 454.21 L879.91 455.39 L882.00 456.58 L884.09 457.77 L886.19 458.95 L888.28 460.14 L890.37 461.32 L892.46 462.51 L894.56 463.70 L896.65 464.88 L898.74 466.07 L900.84 467.26 L902.93 468.44 L905.02 469.63 L907.12 470.82 L909.21 472.00 L911.30 473.19 L913.40 474.38 L915.49 475.56 L917.58 476.75 L919.67 477.94 L921.77 479.12 L923.86 480.31 L925.95 481.50 L928.05 482.68 L930.14 483.87 L932.23 485.06 L934.33 486.24 L936.42 487.43 L938.51 488.62 L940.61 489.80 L942.70 490.99 L944.79 492.18 L946.88 493.36 L948.98 494.55 L951.07 495.74 L953.16 496.93 L955.26 498.11 L957.35 499.30 L959.44 500.49 L961.54 501.68 L963.63 502.86 L965.72 504.05 L967.81 505.24" stroke="#c05a1c" stroke-width="3.6" fill="none"/>
</g>
<rect x="129.90" y="0.40" width="853.20" height="527.50" fill="none" stroke="#8c8c8c" stroke-width="1.45"/>
<path d="M134.10 527.90 v-7.00 M134.10 0.40 v7.00 M175.72 527.90 v-4.00 M175.72 0.40 v4.00 M217.33 527.90 v-4.00 M217.33 0.40 v4.00 M258.94 527.90 v-4.00 M258.94 0.40 v4.00 M300.56 527.90 v-7.00 M300.56 0.40 v7.00 M342.18 527.90 v-4.00 M342.18 0.40 v4.00 M383.79 527.90 v-4.00 M383.79 0.40 v4.00 M425.40 527.90 v-4.00 M425.40 0.40 v4.00 M467.02 527.90 v-7.00 M467.02 0.40 v7.00 M508.63 527.90 v-4.00 M508.63 0.40 v4.00 M550.25 527.90 v-4.00 M550.25 0.40 v4.00 M591.87 527.90 v-4.00 M591.87 0.40 v4.00 M633.48 527.90 v-7.00 M633.48 0.40 v7.00 M675.10 527.90 v-4.00 M675.10 0.40 v4.00 M716.71 527.90 v-4.00 M716.71 0.40 v4.00 M758.33 527.90 v-4.00 M758.33 0.40 v4.00 M799.94 527.90 v-7.00 M799.94 0.40 v7.00 M841.56 527.90 v-4.00 M841.56 0.40 v4.00 M883.17 527.90 v-4.00 M883.17 0.40 v4.00 M924.79 527.90 v-4.00 M924.79 0.40 v4.00 M966.40 527.90 v-7.00 M966.40 0.40 v7.00 M129.90 527.60 h7.00 M983.10 527.60 h-7.00 M129.90 512.10 h4.00 M983.10 512.10 h-4.00 M129.90 496.60 h4.00 M983.10 496.60 h-4.00 M129.90 481.10 h4.00 M983.10 481.10 h-4.00 M129.90 465.60 h4.00 M983.10 465.60 h-4.00 M129.90 450.10 h7.00 M983.10 450.10 h-7.00 M129.90 434.60 h4.00 M983.10 434.60 h-4.00 M129.90 419.10 h4.00 M983.10 419.10 h-4.00 M129.90 403.60 h4.00 M983.10 403.60 h-4.00 M129.90 388.10 h4.00 M983.10 388.10 h-4.00 M129.90 372.60 h7.00 M983.10 372.60 h-7.00 M129.90 357.10 h4.00 M983.10 357.10 h-4.00 M129.90 341.60 h4.00 M983.10 341.60 h-4.00 M129.90 326.10 h4.00 M983.10 326.10 h-4.00 M129.90 310.60 h4.00 M983.10 310.60 h-4.00 M129.90 295.10 h7.00 M983.10 295.10 h-7.00 M129.90 279.60 h4.00 M983.10 279.60 h-4.00 M129.90 264.10 h4.00 M983.10 264.10 h-4.00 M129.90 248.60 h4.00 M983.10 248.60 h-4.00 M129.90 233.10 h4.00 M983.10 233.10 h-4.00 M129.90 217.60 h7.00 M983.10 217.60 h-7.00 M129.90 202.10 h4.00 M983.10 202.10 h-4.00 M129.90 186.60 h4.00 M983.10 186.60 h-4.00 M129.90 171.10 h4.00 M983.10 171.10 h-4.00 M129.90 155.60 h4.00 M983.10 155.60 h-4.00 M129.90 140.10 h7.00 M983.10 140.10 h-7.00 M129.90 124.60 h4.00 M983.10 124.60 h-4.00 M129.90 109.10 h4.00 M983.10 109.10 h-4.00 M129.90 93.60 h4.00 M983.10 93.60 h-4.00 M129.90 78.10 h4.00 M983.10 78.10 h-4.00 M129.90 62.60 h7.00 M983.10 62.60 h-7.00 M129.90 47.10 h4.00 M983.10 47.10 h-4.00 M129.90 31.60 h4.00 M983.10 31.60 h-4.00 M129.90 16.10 h4.00 M983.10 16.10 h-4.00" stroke="#8c8c8c" stroke-width="1" fill="none"/>
<g font-family="Liberation Serif, serif" font-size="38" fill="#000">
<text transform="translate(134.10 566.2) scale(0.965 1.035)" text-anchor="middle">0</text>
<text transform="translate(300.56 566.2) scale(0.965 1.035)" text-anchor="middle">2</text>
<text transform="translate(467.02 566.2) scale(0.965 1.035)" text-anchor="middle">4</text>
<text transform="translate(633.48 566.2) scale(0.965 1.035)" text-anchor="middle">6</text>
<text transform="translate(799.94 566.2) scale(0.965 1.035)" text-anchor="middle">8</text>
<text transform="translate(966.40 566.2) scale(0.965 1.035)" text-anchor="middle">10</text>
<text transform="translate(123.3 75.00) scale(0.965 1.035)" text-anchor="end">1.5</text>
<text transform="translate(123.3 152.50) scale(0.965 1.035)" text-anchor="end">1.0</text>
<text transform="translate(123.3 230.00) scale(0.965 1.035)" text-anchor="end">0.5</text>
<text transform="translate(123.3 307.50) scale(0.965 1.035)" text-anchor="end">0.0</text>
<text transform="translate(123.3 385.00) scale(0.965 1.035)" text-anchor="end">0.5</text>
<rect x="54.7" y="373.70" width="18.7" height="2.0"/>
<text transform="translate(123.3 462.50) scale(0.965 1.035)" text-anchor="end">1.0</text>
<rect x="54.7" y="451.20" width="18.7" height="2.0"/>
<text transform="translate(123.3 540.00) scale(0.965 1.035)" text-anchor="end">1.5</text>
<rect x="54.7" y="528.70" width="18.7" height="2.0"/>
<text x="555.7" y="619.7" text-anchor="middle" font-style="italic">t</text>
<g transform="translate(0 305) rotate(-90)">
<path d="M8.3 8.7 L0.5 23.8 L8.3 38.6 M73.3 8.7 L81.1 23.8 L73.3 38.6" fill="none" stroke="#000" stroke-width="1.8" stroke-linejoin="miter"/>
<text transform="translate(14.6 33.1) scale(1.15 1)" font-style="italic">X</text>
<text transform="translate(36.9 38.9) scale(1.05 1)" font-style="italic" font-size="27">cm</text>
</g>
</g>
</svg>
</body></html>
